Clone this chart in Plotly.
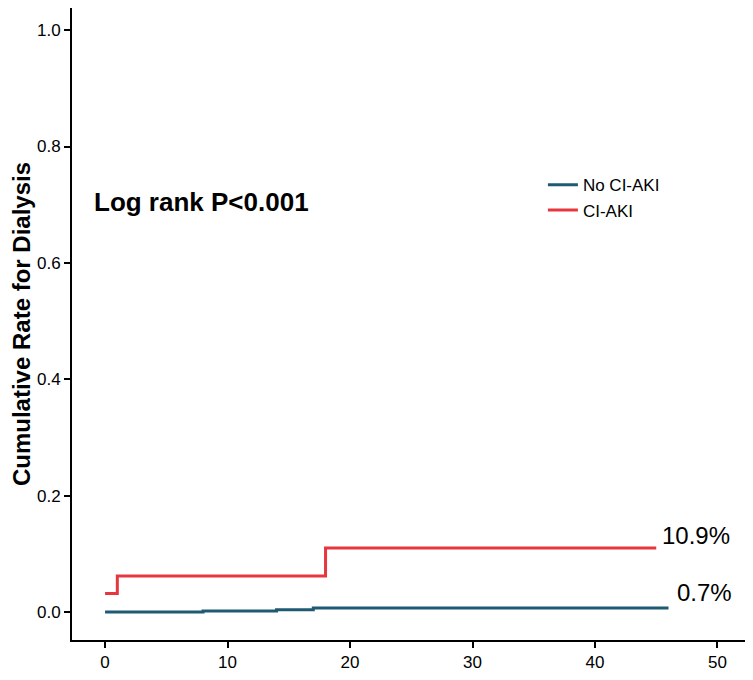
import plotly.graph_objects as go

# step data (months vs cumulative rate)
aki_x = [0, 1, 1, 18, 18, 45]
aki_y = [0.032, 0.032, 0.062, 0.062, 0.110, 0.110]
no_aki_x = [0, 8, 8, 14, 14, 17, 17, 46]
no_aki_y = [0.000, 0.000, 0.002, 0.002, 0.004, 0.004, 0.007, 0.007]

x_ticks = [0, 10, 20, 30, 40, 50]
y_ticks = [0.0, 0.2, 0.4, 0.6, 0.8, 1.0]

blue = "#1e5a72"
red = "#e8363f"

fig = go.Figure()
fig.add_trace(go.Scatter(x=no_aki_x, y=no_aki_y, mode="lines", name="No CI-AKI",
                         line=dict(color=blue, width=3)))
fig.add_trace(go.Scatter(x=aki_x, y=aki_y, mode="lines", name="CI-AKI",
                         line=dict(color=red, width=3)))

fig.add_annotation(x=0.029, y=0.705, xref="paper", yref="y", text="<b>Log rank P<0.001</b>",
                   showarrow=False, xanchor="left", font=dict(size=26, color="black"))
fig.add_annotation(x=aki_x[-1] + 0.3, y=aki_y[-1] + 0.022, text="10.9%", showarrow=False,
                   xanchor="left", font=dict(size=24, color="black"))
fig.add_annotation(x=no_aki_x[-1] + 0.5, y=no_aki_y[-1] + 0.027, text="0.7%", showarrow=False,
                   xanchor="left", font=dict(size=24, color="black"))

# the page puts an 8px body margin around the plot, so size it to fit the window
fig.update_layout(
    width=745, height=672,
    margin=dict(l=64, r=0, t=0, b=40),
    plot_bgcolor="white", paper_bgcolor="white",
    font=dict(family="Liberation Sans, Arial", size=17, color="black"),
    showlegend=True,
    legend=dict(x=0.6915, y=0.748, xanchor="left", yanchor="top", bgcolor="rgba(0,0,0,0)",
                font=dict(size=17), tracegroupgap=0, itemwidth=30),
    xaxis=dict(range=[-2.7, 52.9], tickvals=x_ticks, showgrid=False, zeroline=False,
               showline=True, linecolor="black", linewidth=2, ticks="outside",
               ticklen=6, tickwidth=2, tickcolor="black", automargin=False),
    yaxis=dict(range=[-0.048, 1.038], tickvals=y_ticks, tickformat=".1f", showgrid=False,
               zeroline=False, showline=True, linecolor="black", linewidth=2,
               ticks="outside", ticklen=6, tickwidth=2, tickcolor="black", automargin=False,
               title=dict(text="<b>Cumulative Rate for Dialysis</b>", font=dict(size=24),
                          standoff=10)),
)

fig.write_html("out.html")
